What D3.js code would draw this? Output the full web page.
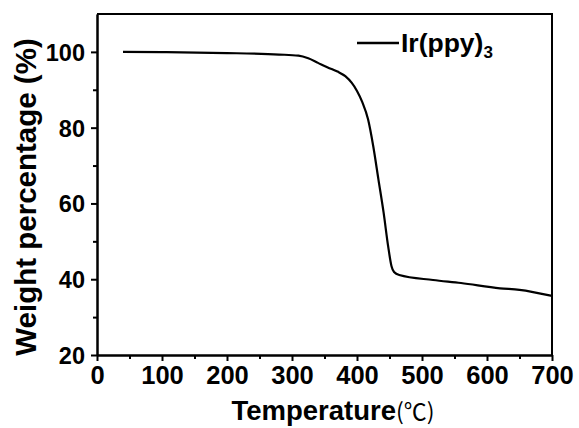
<!DOCTYPE html>
<meta charset="utf-8">
<style>
  body { margin: 0; background: #fff; }
  svg { font-family: "Liberation Sans", Arial, Helvetica, sans-serif; font-weight: bold; }
  .axis path, .axis line { stroke: #000; stroke-width: 2; }
  .axis text { fill: #000; font-weight: bold; }
</style>
<body>
<svg id="chart" width="579" height="428"></svg>
<script src="https://d3js.org/d3.v7.min.js"></script>
<script>
// TGA curve of Ir(ppy)3
var temps   = [40, 100, 200, 280, 310, 325, 340, 355, 370, 382, 392, 400, 408, 417, 425, 433, 441, 448, 453, 457, 465, 517, 560, 620, 650, 700];
var weights = [100, 99.95, 99.7, 99.3, 99.0, 98.3, 97.1, 95.9, 94.8, 93.6, 91.8, 89.7, 86.8, 82.2, 75.1, 66.3, 57.5, 48.6, 43.5, 41.9, 41.1, 39.8, 39.0, 37.6, 37.2, 35.6];
var xTicks = [0, 100, 200, 300, 400, 500, 600, 700];
var xMinor = [50, 150, 250, 350, 450, 550, 650];
var yTicks = [20, 40, 60, 80, 100];
var yMinor = [30, 50, 70, 90];
var seriesName = "Ir(ppy)";

var svg = d3.select("#chart");
var pLeft = 97, pRight = 552, pTop = 14, pBottom = 355;

var x = d3.scaleLinear().domain([0, 700]).range([pLeft, pRight]);
var y = d3.scaleLinear().domain([20, 110]).range([pBottom, pTop]);

// frame (top and right sides)
svg.append("path")
  .attr("d", "M" + pLeft + "," + pTop + "H" + pRight + "V" + pBottom)
  .attr("fill", "none").attr("stroke", "#000").attr("stroke-width", 2);

// minor ticks first, no labels
svg.append("g").attr("class", "axis")
  .attr("transform", "translate(0," + pBottom + ")")
  .call(d3.axisBottom(x).tickValues(xMinor).tickSize(4).tickSizeOuter(0).tickFormat(""));
svg.append("g").attr("class", "axis")
  .attr("transform", "translate(" + pLeft + ",0)")
  .call(d3.axisLeft(y).tickValues(yMinor).tickSize(4).tickSizeOuter(0).tickFormat(""));

var xAxis = svg.append("g").attr("class", "axis")
  .attr("transform", "translate(0," + pBottom + ")")
  .call(d3.axisBottom(x).tickValues(xTicks).tickSize(6).tickSizeOuter(0).tickPadding(5));
xAxis.selectAll("text").style("font-size", "25.5px");

var yAxis = svg.append("g").attr("class", "axis")
  .attr("transform", "translate(" + pLeft + ",0)")
  .call(d3.axisLeft(y).tickValues(yTicks).tickSize(6).tickSizeOuter(0).tickPadding(6));
yAxis.selectAll("text").style("font-size", "23.5px").attr("dy", "0.36em");

// the curve
var line = d3.line()
  .x(function (d, i) { return x(temps[i]); })
  .y(function (d) { return y(d); })
  .curve(d3.curveMonotoneX);

svg.append("path")
  .datum(weights)
  .attr("d", line)
  .attr("fill", "none")
  .attr("stroke", "#000")
  .attr("stroke-width", 2.2)
  .attr("stroke-linejoin", "round");

// legend
svg.append("line")
  .attr("x1", 357).attr("x2", 399).attr("y1", 43).attr("y2", 43)
  .attr("stroke", "#000").attr("stroke-width", 2.5);
var lg = svg.append("text").attr("x", 401).attr("y", 52).style("font-size", "26.5px");
lg.append("tspan").text(seriesName);
lg.append("tspan").attr("dy", 6).style("font-size", "17px").text("3");

// axis titles
var xt = svg.append("text")
  .attr("x", 333).attr("y", 420)
  .attr("text-anchor", "middle")
  .style("font-size", "27.5px");
xt.append("tspan").text("Temperature");
xt.append("tspan").style("font-family", "'Noto Sans CJK SC', sans-serif").style("font-weight", "normal").style("font-size", "23px").text("(℃)");

svg.append("text")
  .attr("transform", "translate(36,197) rotate(-90)")
  .attr("text-anchor", "middle")
  .style("font-size", "29.5px")
  .text("Weight percentage (%)");
</script>
</body>
